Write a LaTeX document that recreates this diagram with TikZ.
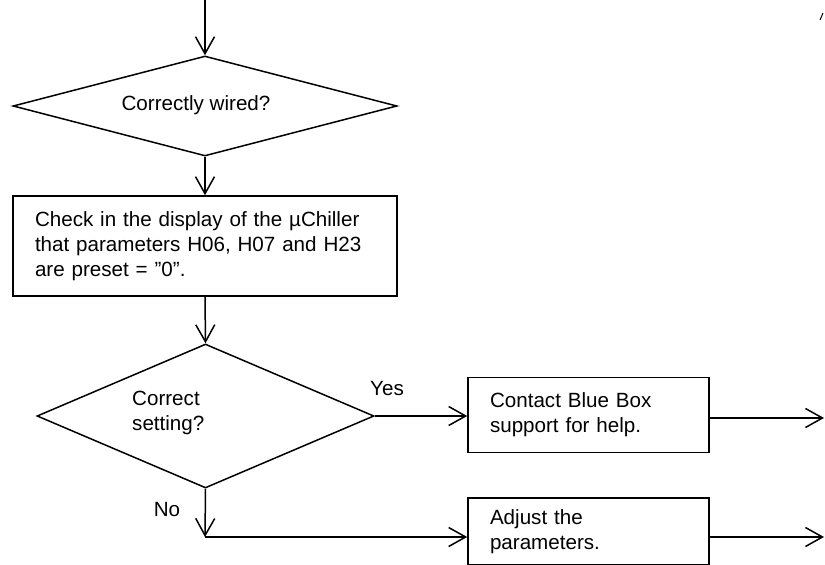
\documentclass[tikz,border=0pt]{standalone}
\usepackage{fontspec}
\setmainfont{Liberation Sans}
\usetikzlibrary{arrows.meta,shapes.geometric}

\tikzset{
  flow/.style={-{Straight Barb[length=17pt,width=19pt]}, line width=1.5pt},
  decision/.style={draw, diamond, line width=1.5pt, inner sep=0pt},
  stepbox/.style={draw, rectangle, line width=1.6pt, align=left, inner xsep=22pt, inner ysep=0pt},
}

\begin{document}
\begin{tikzpicture}[x=1pt, y=-1pt, font=\fontsize{20.6}{25}\selectfont]
    \useasboundingbox (0,0) rectangle (825,565);

    \coordinate (start) at (205,0);
    \node (wired) [decision, minimum width=384pt, minimum height=100pt] at (205,106) {};
    \node (wiredtxt) at (196,105) {Correctly wired?};
    \node (check) [stepbox, text width=340pt, minimum height=100pt] at (205,246)
        {Check in the display of the µChiller\\that parameters H06, H07 and H23\\are preset = ”0”.};
    \node (setting) [decision, minimum width=337pt, minimum height=144pt] at (205.5,416) {};
    \node (settingtxt) [align=left, anchor=west, inner sep=0pt] at (132,413) {Correct\\setting?};
    \node (contact) [stepbox, text width=197pt, minimum height=75pt] at (588.5,415)
        {Contact Blue Box\\support for help.};
    \node (adjust) [stepbox, text width=197pt, minimum height=67pt] at (588.5,531.5)
        {Adjust the\\parameters.};
    \node (yes) at (387,389) {Yes};
    \node (no) at (167,510) {No};
    \coordinate (nobend) at (205,537);
    \coordinate (out1) at (824,418);
    \coordinate (out2) at (824,537);

    \draw[flow] (start) -- (wired.north);
    \draw[flow] (wired.south) -- (check.north);
    \draw[flow] (check.south) -- (setting.north);
    \draw[flow] (setting.east) -- (setting.east -| contact.west);
    \draw[flow] (contact.east |- out1) -- (out1);
    \draw[flow] (setting.south) -- (nobend);
    \draw[flow] (nobend) -- (nobend -| adjust.west);
    \draw[flow] (adjust.east |- out2) -- (out2);

    % stray mark in the upper right corner
    \draw[line width=1pt] (820,20) -- (823,13);
\end{tikzpicture}
\end{document}
